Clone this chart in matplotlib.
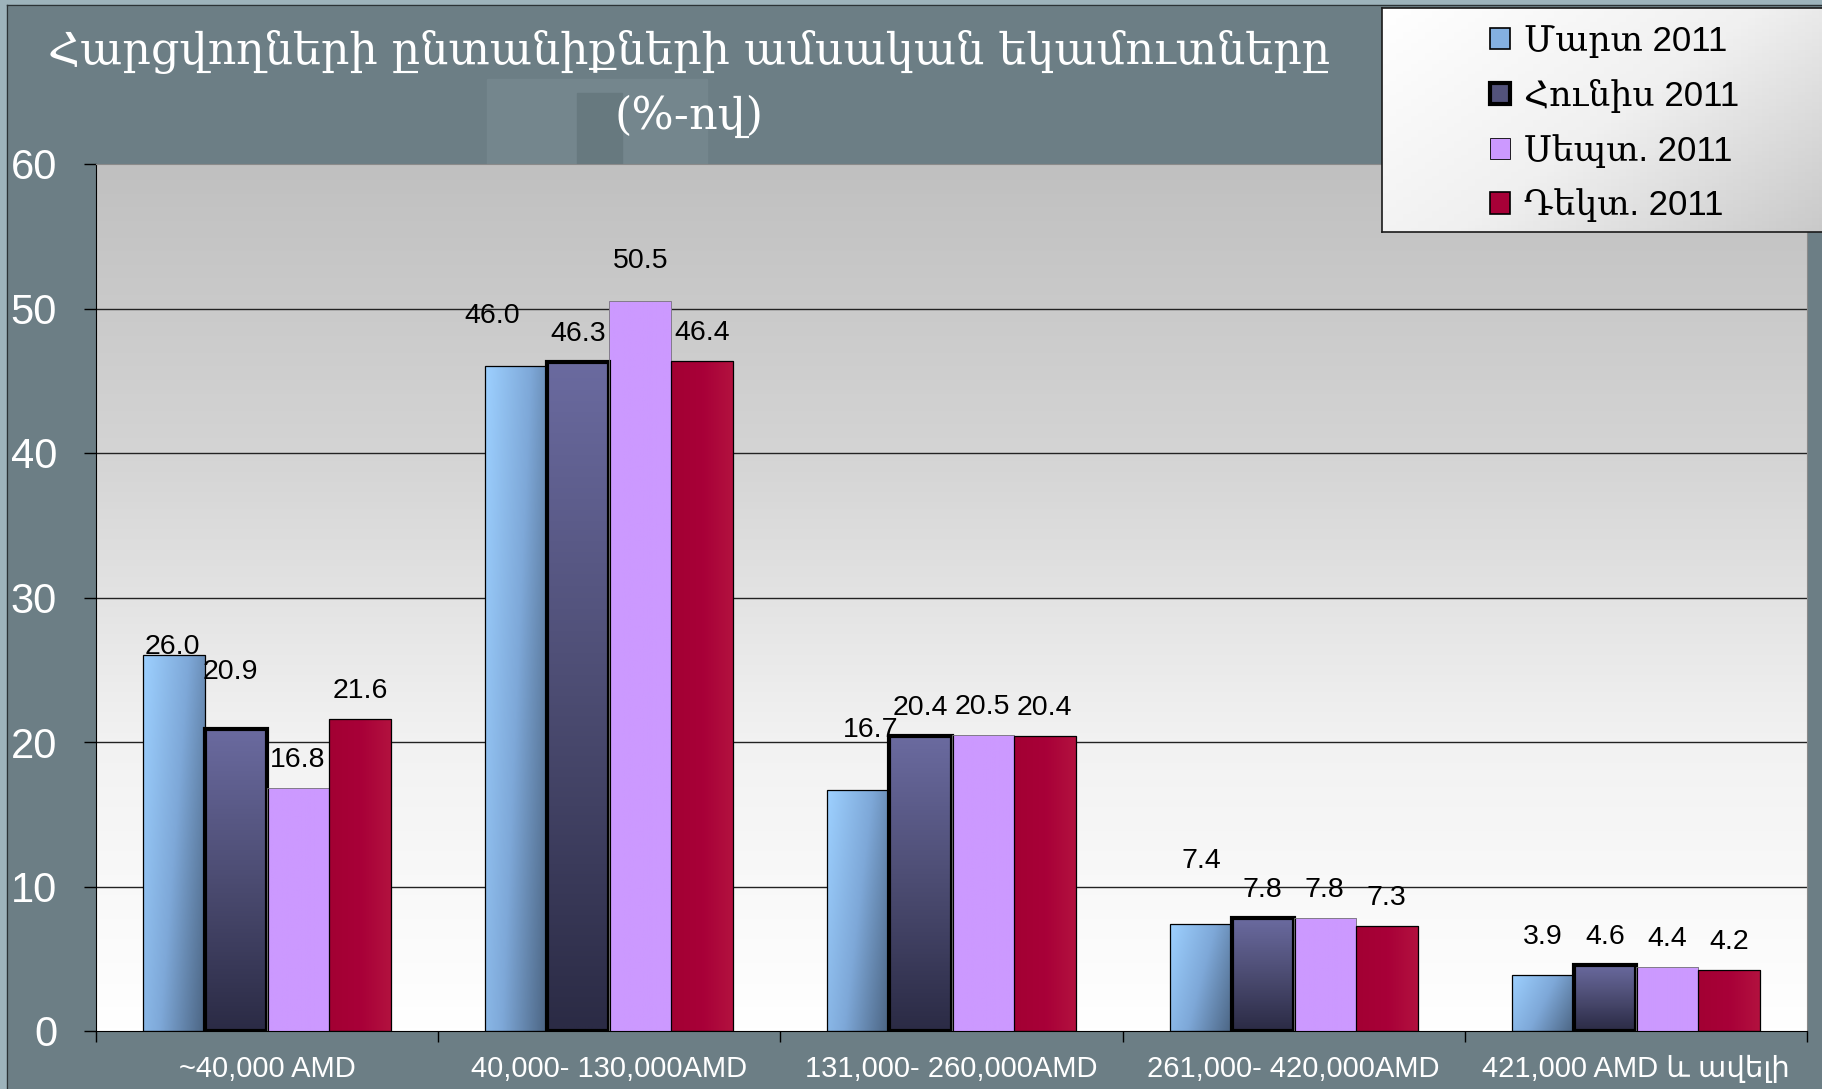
import numpy as np
import matplotlib
matplotlib.use("Agg")
import matplotlib.pyplot as plt
from matplotlib.colors import LinearSegmentedColormap
from matplotlib.patches import Patch, Rectangle
from matplotlib.lines import Line2D

W, H = 1822, 1089

categories = ["~40,000 AMD", "40,000- 130,000AMD", "131,000- 260,000AMD",
              "261,000- 420,000AMD", "421,000 AMD և ավելի"]
series = ["Մարտ 2011", "Հունիս 2011", "Սեպտ. 2011", "Դեկտ. 2011"]
mar = [26.0, 46.0, 16.7, 7.4, 3.9]
jun = [20.9, 46.3, 20.4, 7.8, 4.6]
sep = [16.8, 50.5, 20.5, 7.8, 4.4]
dec = [21.6, 46.4, 20.4, 7.3, 4.2]
values = [mar, jun, sep, dec]

title = "Հարցվողների ընտանիքների ամսական եկամուտները\n(%-ով)"

# label nudges in pixels (group, series) -> (dx, dy), relative to default spot
nudge = {(0, 0): (-2, -20), (0, 1): (-6, 29), (1, 0): (-24, 22), (1, 2): (0, 12),
         (2, 0): (12, 32), (3, 0): (1, 35), (4, 0): (0, 10)}

sans = ["Liberation Sans", "DejaVu Sans"]
fig = plt.figure(figsize=(W / 100, H / 100), dpi=100)
fig.patch.set_facecolor("#6c7e85")

# slide frame and faint background picture
tf = fig.transFigure
fig.add_artist(Rectangle((0, 0), 7 / W, 1, transform=tf, color="#9db3bb", zorder=0))
fig.add_artist(Rectangle((0, 1 - 5 / H), 1, 5 / H, transform=tf, color="#9db3bb", zorder=0))
fig.add_artist(Line2D([7 / W, 7 / W], [0, 1 - 5 / H], transform=tf, color="#2b3336", lw=1, zorder=0))
fig.add_artist(Line2D([7 / W, 1], [1 - 5 / H, 1 - 5 / H], transform=tf, color="#2b3336", lw=1, zorder=0))
fig.add_artist(Rectangle((487 / W, 1 - 164 / H), 220 / W, 85 / H, transform=tf,
                         color="#74868d", zorder=0))
fig.add_artist(Rectangle((577 / W, 1 - 164 / H), 45 / W, 71 / H, transform=tf,
                         color="#67797f", zorder=0))

ax = fig.add_axes([96 / W, 1 - 1031 / H, (1807 - 96) / W, (1031 - 164) / H])
ax.set_xlim(-0.5, 4.5)
ax.set_ylim(0, 60)

bg = LinearSegmentedColormap.from_list("bg", ["#c0c0c0", "#d4d4d4", "#f2f2f2", "#ffffff"])
ax.imshow(np.linspace(0, 1, 256).reshape(-1, 1), extent=[-0.5, 4.5, 0, 60],
          cmap=bg, aspect="auto", zorder=0)

for y in range(10, 60, 10):
    ax.axhline(y, color="#222222", lw=1, zorder=1)

cmaps = [
    LinearSegmentedColormap.from_list("m", ["#9dd0ff", "#7ea8d8", "#4b6482"]),
    LinearSegmentedColormap.from_list("j", ["#6a6a9f", "#4c4c72", "#2b2b45"]),
    LinearSegmentedColormap.from_list("s", ["#cc99ff", "#cc99ff"]),
    LinearSegmentedColormap.from_list("d", ["#a30033", "#a80038", "#b3123f"]),
]
edges = [0.9, 3.0, 0.6, 0.9]
edgecolors = ["black", "black", "#777777", "black"]

w = 0.1813
x = np.arange(len(categories))
uu, vv = np.meshgrid(np.linspace(0, 1, 64), np.linspace(1, 0, 64))
grads = [0.75 * uu + 0.35 * (1 - vv), 1 - vv, uu, uu]

for i, vals in enumerate(values):
    xs = x + (i - 1.5) * w
    bars = ax.bar(xs, vals, w, color=cmaps[i](0.5), zorder=2)
    for b in bars:
        bx, by = b.get_x(), b.get_y()
        g = grads[i] / grads[i].max()
        im = ax.imshow(g, extent=[bx, bx + b.get_width(), by, by + b.get_height()],
                       cmap=cmaps[i], aspect="auto", zorder=2.1, vmin=0, vmax=1)
        im.set_clip_path(b)
    ax.bar(xs, vals, w, facecolor="none", edgecolor=edgecolors[i], lw=edges[i], zorder=3)
    for j, v in enumerate(vals):
        dx, dy = nudge.get((j, i), (0, 0))
        ax.annotate(f"{v:.1f}", (xs[j], v), xytext=(dx, 28 + dy), textcoords="offset pixels",
                    ha="center", va="center", fontsize=20.5, family=sans, color="black", zorder=4)

ax.set_xlim(-0.5, 4.5)
ax.set_ylim(0, 60)

# axes look
for s in ["top", "right"]:
    ax.spines[s].set_color("#8a8a8a")
ax.spines["left"].set_color("black")
ax.spines["bottom"].set_color("black")
ax.set_yticks(range(0, 61, 10))
ax.tick_params(axis="y", direction="out", length=9, width=1, pad=19,
               labelsize=30, labelcolor="white")
ax.set_xticks(x)
ax.set_xticklabels(categories, family=sans)
ax.tick_params(axis="x", length=0, pad=17, labelsize=21, labelcolor="white")
ax.set_xticks(np.arange(-0.5, 5, 1), minor=True)
ax.tick_params(axis="x", which="minor", direction="out", length=8, width=1)
for t in ax.get_yticklabels():
    t.set_family(sans)

fig.text(689 / W, 1 - 84 / H, title, ha="center", va="center", color="white",
         fontsize=32, family=["DejaVu Serif", "DejaVu Sans"], linespacing=1.6)

# legend
lax = fig.add_axes([1382 / W, 1 - 232 / H, 1 - 1382 / W + 0.01, 224 / H])
lax.set_xlim(0, 1)
lax.set_ylim(0, 1)
lg = LinearSegmentedColormap.from_list("lg", ["#ffffff", "#f0f0f0", "#c8c8c8"])
lax.imshow(0.6 * uu + 0.4 * (1 - vv), extent=[0, 1, 0, 1], cmap=lg, aspect="auto")
lax.set_xticks([])
lax.set_yticks([])
for s in lax.spines.values():
    s.set_color("#1a1a1a")
    s.set_linewidth(1.2)

handles = [Patch(facecolor=cmaps[i](0.4), edgecolor="black", lw=[1.2, 3.0, 0.6, 1.2][i])
           for i in range(4)]
fig.legend(handles, series, loc="upper left", bbox_to_anchor=(1490 / W, 1 - 25 / H),
           frameon=False, borderaxespad=0, borderpad=0, handlelength=0.57, handleheight=0.57,
           handletextpad=0.4, labelspacing=0.6,
           prop={"family": ["Liberation Sans", "DejaVu Serif"], "size": 25})

fig.savefig("out.png", dpi=100, facecolor=fig.get_facecolor())
